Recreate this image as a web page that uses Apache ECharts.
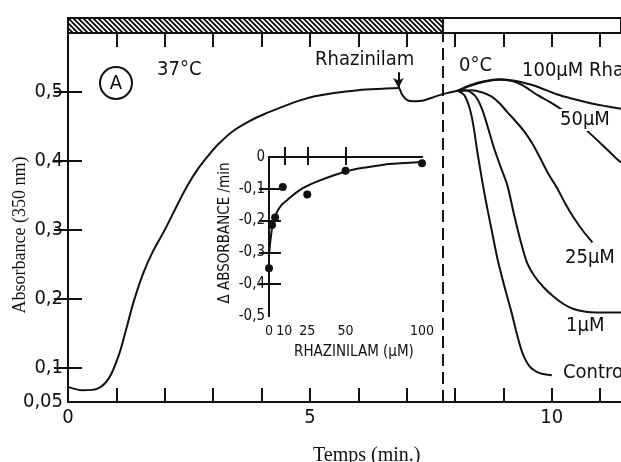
<!DOCTYPE html>
<html><head><meta charset="utf-8">
<script src="https://cdn.jsdelivr.net/npm/echarts@6/dist/echarts.min.js"></script>
<style>html,body{margin:0;padding:0;background:#fff}#c{width:621px;height:462px}</style>
</head><body><div id="c"></div>
<script>
// ---- main panel data: time (min) / absorbance (350 nm) ----
const baseT = [0, 0.3, 0.6, 0.85, 1.05, 1.2, 1.35, 1.55, 1.75, 2.0, 2.3, 2.5, 2.7, 2.9, 3.1, 3.4, 3.75, 4.05, 4.4, 4.75, 5.1, 5.5, 6.0, 6.5, 6.83, 6.9, 7.0, 7.15, 7.35, 7.6, 7.85, 8.05];
const baseA = [0.072, 0.067, 0.069, 0.085, 0.118, 0.155, 0.194, 0.236, 0.268, 0.300, 0.342, 0.368, 0.390, 0.408, 0.424, 0.443, 0.458, 0.468, 0.478, 0.487, 0.494, 0.499, 0.503, 0.505, 0.506, 0.497, 0.489, 0.487, 0.488, 0.494, 0.499, 0.502];
const ctrlT = [8.05, 8.2, 8.34, 8.48, 8.61, 8.75, 8.88, 9.02, 9.16, 9.3, 9.4, 9.55, 9.75, 10.0];
const ctrlA = [0.502, 0.495, 0.466, 0.405, 0.352, 0.302, 0.257, 0.218, 0.182, 0.143, 0.120, 0.101, 0.092, 0.089];
const um1T = [8.05, 8.2, 8.41, 8.55, 8.67, 8.8, 8.95, 9.08, 9.22, 9.35, 9.49, 9.65, 9.84, 10.04, 10.25, 10.45, 10.7, 10.92, 11.2, 11.43];
const um1A = [0.502, 0.503, 0.495, 0.477, 0.451, 0.420, 0.390, 0.365, 0.322, 0.285, 0.252, 0.232, 0.216, 0.203, 0.192, 0.185, 0.181, 0.180, 0.180, 0.180];
const um25T = [8.05, 8.35, 8.55, 8.75, 8.92, 9.08, 9.25, 9.43, 9.6, 9.77, 9.94, 10.1, 10.28, 10.45, 10.65, 10.84];
const um25A = [0.502, 0.503, 0.500, 0.494, 0.484, 0.471, 0.458, 0.443, 0.425, 0.403, 0.380, 0.362, 0.338, 0.318, 0.298, 0.282];
const um50T = [8.05, 8.3, 8.6, 8.9, 9.2, 9.4, 9.7, 10.0, 10.4, 10.76, 11.05, 11.3, 11.43];
const um50A = [0.502, 0.509, 0.515, 0.518, 0.516, 0.510, 0.496, 0.484, 0.465, 0.442, 0.423, 0.406, 0.398];
const um100T = [8.05, 8.3, 8.6, 8.9, 9.2, 9.4, 9.7, 10.1, 10.45, 10.8, 11.1, 11.43];
const um100A = [0.502, 0.510, 0.516, 0.519, 0.517, 0.514, 0.508, 0.497, 0.490, 0.484, 0.480, 0.476];
const drugT = 6.83;              // Rhazinilam addition
const coldT = 7.75;              // 37°C -> 0°C shift
const hotStart = [0];
const hotEnd = [coldT];
const mainXTicks = [1, 2, 3, 4, 5, 6, 7, 8, 9, 10, 11];
const mainXLabels = [0, 5, 10];
const mainYTicks = [0.1, 0.2, 0.3, 0.4, 0.5];
const mainYLabels = [0.05, 0.1, 0.2, 0.3, 0.4, 0.5];
// ---- inset data: rhazinilam (µM) / Δ absorbance per min ----
const insetConc = [0, 2, 4, 9, 25, 50, 100];
const insetRate = [-0.35, -0.214, -0.19, -0.094, -0.118, -0.043, -0.02];
const fitConc = [0, 1, 2.5, 5, 8, 12, 20, 30, 42, 53, 64, 75, 86, 100];
const fitRate = [-0.31, -0.26, -0.21, -0.175, -0.152, -0.135, -0.104, -0.08, -0.058, -0.042, -0.032, -0.024, -0.02, -0.016];
const insetXTicks = [10, 25, 50];
const insetXLabels = [0, 10, 25, 50, 100];
const insetYTicks = [-0.1, -0.2, -0.3, -0.4];
const insetYLabels = [0, -0.1, -0.2, -0.3, -0.4, -0.5];

const pairs = (a, b) => a.map((v, i) => [v, b[i]]);
const FONT = "'DejaVu Sans Condensed','Liberation Sans Narrow','DejaVu Sans',sans-serif";
const SERIF = "'Liberation Serif','DejaVu Serif',serif";
const comma = v => String(Math.round(v * 100) / 100).replace('.', ',');

// hatch pattern
const pc = document.createElement('canvas'); pc.width = 5; pc.height = 5;
const g = pc.getContext('2d');
g.fillStyle = '#fff'; g.fillRect(0, 0, 5, 5);
g.strokeStyle = '#000'; g.lineWidth = 1.8; g.beginPath();
g.moveTo(-1, -1); g.lineTo(6, 6); g.moveTo(-1, 4); g.lineTo(1, 6); g.moveTo(4, -1); g.lineTo(6, 1); g.stroke();

const lineStyle = { color: '#111', width: 2 };
const axBlack = { show: true, lineStyle: { color: '#111', width: 2 } };
const XMAX = 11.43, YMIN = 0.05, YMAX = 0.586;

function curve(name, t, a, extra) {
  return Object.assign({ type: 'line', name, data: pairs(t, a), showSymbol: false, symbol: 'none',
    smooth: 0.3, lineStyle, xAxisIndex: 0, yAxisIndex: 0, silent: true, z: 3 }, extra || {});
}

const option = {
  animation: false,
  backgroundColor: '#fff',
  grid: [
    { left: 68, top: 33, right: -7, bottom: 60 },
    { left: 269, top: 157, width: 153, height: 159, show: true, backgroundColor: '#fff', borderWidth: 0, z: 5 },
    { left: 68, top: 18, right: -7, height: 15, show: true, backgroundColor: '#fff', borderColor: '#111', borderWidth: 2 }
  ],
  xAxis: [
    { gridIndex: 0, type: 'value', min: 0, max: XMAX, position: 'bottom', axisLine: axBlack, splitLine: { show: false },
      axisTick: { inside: true, length: 14, lineStyle: { color: '#111', width: 2 }, customValues: mainXTicks },
      axisLabel: { customValues: mainXLabels, color: '#111', fontFamily: FONT, fontSize: 20, margin: 6 } },
    { gridIndex: 0, type: 'value', min: 0, max: XMAX, position: 'top', axisLine: axBlack, splitLine: { show: false },
      axisTick: { inside: true, length: 14, lineStyle: { color: '#111', width: 2 }, customValues: mainXTicks },
      axisLabel: { show: false } },
    { gridIndex: 1, type: 'value', min: 0, max: 100, position: 'bottom', axisLine: axBlack, splitLine: { show: false },
      axisTick: { inside: true, length: 10, lineStyle: { color: '#111', width: 2 }, customValues: insetXTicks },
      axisLabel: { customValues: insetXLabels, color: '#111', fontFamily: FONT, fontSize: 14, margin: 8 }, z: 6 },
    { gridIndex: 1, type: 'value', min: 0, max: 100, position: 'top', axisLine: axBlack, splitLine: { show: false },
      axisTick: { inside: true, length: 8, lineStyle: { color: '#111', width: 2 }, customValues: insetXTicks },
      axisLabel: { show: false }, z: 6 },
    { gridIndex: 2, type: 'value', min: 0, max: XMAX, show: false }
  ],
  yAxis: [
    { gridIndex: 0, type: 'value', min: YMIN, max: YMAX, position: 'left', axisLine: axBlack, splitLine: { show: false },
      axisTick: { inside: true, length: 14, lineStyle: { color: '#111', width: 2 }, customValues: mainYTicks },
      axisLabel: { customValues: mainYLabels, formatter: comma, color: '#111', fontFamily: FONT, fontSize: 20, margin: 5 } },
    { gridIndex: 0, type: 'value', min: YMIN, max: YMAX, position: 'right', axisLine: axBlack, splitLine: { show: false },
      axisTick: { inside: true, length: 14, lineStyle: { color: '#111', width: 2 }, customValues: mainYTicks },
      axisLabel: { show: false } },
    { gridIndex: 1, type: 'value', min: -0.5, max: 0, position: 'left', axisLine: axBlack, splitLine: { show: false },
      axisTick: { inside: true, length: 12, lineStyle: { color: '#111', width: 2 }, customValues: insetYTicks },
      axisLabel: { customValues: insetYLabels, formatter: comma, color: '#111', fontFamily: FONT, fontSize: 15, margin: 4 }, z: 6 },
    { gridIndex: 1, type: 'value', min: -0.5, max: 0, position: 'right', axisLine: axBlack, splitLine: { show: false },
      axisTick: { inside: true, length: 10, lineStyle: { color: '#111', width: 2 }, customValues: insetYTicks },
      axisLabel: { show: false }, z: 6 },
    { gridIndex: 2, type: 'value', min: 0, max: 1, show: false }
  ],
  series: [
    curve('base', baseT, baseA, {
      markLine: {
        silent: true, symbol: ['none', 'none'], animation: false, label: { show: false },
        data: [
          { xAxis: coldT, lineStyle: { type: [12, 6], color: '#111', width: 2 } },
          [ { coord: [drugT, 0.529], symbol: 'none', lineStyle: { type: 'solid', color: '#111', width: 2 } },
            { coord: [drugT, 0.506], symbol: 'arrow', symbolSize: [8, 10] } ]
        ]
      }
    }),
    curve('Control', ctrlT, ctrlA),
    curve('1µM', um1T, um1A),
    curve('25µM', um25T, um25A),
    curve('50µM', um50T, um50A),
    curve('100µM', um100T, um100A),
    { type: 'line', name: 'fit', data: pairs(fitConc, fitRate), xAxisIndex: 2, yAxisIndex: 2, showSymbol: false, symbol: 'none',
      smooth: 0.3, lineStyle, silent: true, z: 7 },
    { type: 'scatter', name: 'points', data: pairs(insetConc, insetRate), xAxisIndex: 2, yAxisIndex: 2,
      symbol: 'circle', symbolSize: 8, itemStyle: { color: '#111', opacity: 1 }, silent: true, z: 8 },
    { type: 'custom', name: '37°C', xAxisIndex: 4, yAxisIndex: 4, data: pairs(hotStart, hotEnd), silent: true,
      encode: { x: [0, 1] },
      renderItem: (params, api) => {
        const p0 = api.coord([api.value(0), 1]);
        const p1 = api.coord([api.value(1), 0]);
        return { type: 'rect', shape: { x: p0[0], y: p0[1], width: p1[0] - p0[0], height: p1[1] - p0[1] },
          style: { fill: { image: pc, repeat: 'repeat' }, stroke: '#111', lineWidth: 2 } };
      } }
  ],
  graphic: [
    { type: 'circle', shape: { cx: 116, cy: 83, r: 16 }, style: { fill: 'none', stroke: '#111', lineWidth: 2 }, z: 10 },
    { type: 'text', x: 116, y: 84, style: { text: 'A', font: '20px ' + FONT, fill: '#111', textAlign: 'center', textVerticalAlign: 'middle' }, z: 10 },
    { type: 'text', x: 157, y: 70, style: { text: '37°C', font: '20px ' + FONT, fill: '#111', textVerticalAlign: 'middle' }, z: 10 },
    { type: 'text', x: 315, y: 60, style: { text: 'Rhazinilam', font: '20px ' + FONT, fill: '#111', textVerticalAlign: 'middle' }, z: 10 },
    { type: 'text', x: 459, y: 66, style: { text: '0°C', font: '20px ' + FONT, fill: '#111', textVerticalAlign: 'middle' }, z: 10 },
    { type: 'text', x: 522, y: 71, style: { text: '100µM Rhazinilam', font: '20px ' + FONT, fill: '#111', textVerticalAlign: 'middle' }, z: 10 },
    { type: 'text', x: 558, y: 120, style: { text: '50µM', font: '20px ' + FONT, fill: '#111', textVerticalAlign: 'middle', backgroundColor: '#fff', padding: [1, 2] }, z: 10 },
    { type: 'text', x: 565, y: 258, style: { text: '25µM', font: '20px ' + FONT, fill: '#111', textVerticalAlign: 'middle' }, z: 10 },
    { type: 'text', x: 566, y: 326, style: { text: '1µM', font: '20px ' + FONT, fill: '#111', textVerticalAlign: 'middle' }, z: 10 },
    { type: 'text', x: 563, y: 373, style: { text: 'Control', font: '20px ' + FONT, fill: '#111', textVerticalAlign: 'middle' }, z: 10 },
    { type: 'text', x: 313, y: 456, style: { text: 'Temps (min.)', font: '20px ' + SERIF, fill: '#111', textVerticalAlign: 'middle' }, z: 10 },
    { type: 'text', x: 20, y: 235, rotation: Math.PI / 2, style: { text: 'Absorbance (350 nm)', font: '18px ' + SERIF, fill: '#111', textAlign: 'center', textVerticalAlign: 'middle' }, z: 10 },
    { type: 'text', x: 294, y: 352, style: { text: 'RHAZINILAM (µM)', font: '15px ' + FONT, fill: '#111', textVerticalAlign: 'middle' }, z: 10 },
    { type: 'text', x: 225, y: 233, rotation: Math.PI / 2, style: { text: 'Δ ABSORBANCE /min', font: '15px ' + FONT, fill: '#111', textAlign: 'center', textVerticalAlign: 'middle' }, z: 10 }
  ]
};
const chart = echarts.init(document.getElementById('c'), null, { renderer: 'canvas' });
chart.setOption(option);
</script></body></html>
